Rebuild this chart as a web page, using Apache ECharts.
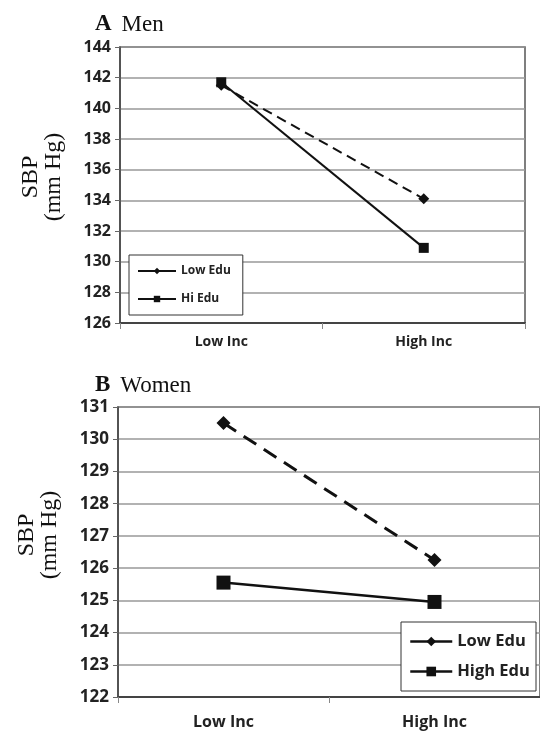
<!DOCTYPE html>
<html>
<head>
<meta charset="utf-8">
<script src="https://cdn.jsdelivr.net/npm/echarts@6/dist/echarts.min.js"></script>
<style>
    html, body { margin: 0; padding: 0; background: #fff; }
    #chart { width: 540px; height: 731px; }
</style>
</head>
<body>
<div id="chart"></div>
<script>
// Data
const categories = ['Low Inc', 'High Inc'];
const menLowEdu = [141.5, 134.1];
const menHiEdu = [141.7, 130.9];
const womenLowEdu = [130.5, 126.25];
const womenHighEdu = [125.55, 124.95];

const sansFont = '"Open Sans", sans-serif';
const serifFont = '"Liberation Serif", serif';

function yAxisFor(gridIndex, min, max, interval, fontSize, nameGap, nameShift) {
    return {
        type: 'value',
        gridIndex: gridIndex,
        min: min,
        max: max,
        interval: interval,
        name: 'SBP\n(mm Hg)',
        nameLocation: 'middle',
        nameRotate: 90,
        nameGap: nameGap,
        nameTextStyle: {fontFamily: serifFont, fontSize: 24, color: '#111', lineHeight: 23, padding: [0, 0, 0, nameShift]},
        axisLine: {show: true, lineStyle: {color: '#444', width: 1.5}},
        axisTick: {show: true, length: 5, lineStyle: {color: '#666'}},
        axisLabel: {fontFamily: sansFont, fontWeight: 'bold', fontSize: fontSize, color: '#222', margin: 9},
        splitLine: {show: true, lineStyle: {color: '#999', width: 1.5}}
    };
}

function xAxisFor(gridIndex, fontSize, margin) {
    return {
        type: 'category',
        gridIndex: gridIndex,
        data: categories,
        boundaryGap: true,
        axisLine: {show: true, lineStyle: {color: '#444', width: 2}},
        axisTick: {show: true, length: 6, lineStyle: {color: '#888'}},
        axisLabel: {fontFamily: sansFont, fontWeight: 'bold', fontSize: fontSize, color: '#222', margin: margin},
        splitLine: {show: false}
    };
}

function panelTitle(letter, word, top) {
    return {
        left: 90, top: top,
        text: '{b|' + letter + '}  {n|' + word + '}',
        textStyle: {rich: {
            b: {fontFamily: serifFont, fontWeight: 'bold', fontSize: 23, color: '#111'},
            n: {fontFamily: serifFont, fontWeight: 'normal', fontSize: 23, color: '#111'}
        }}
    };
}

const chart = echarts.init(document.getElementById('chart'));
const option = {
    animation: false,
    backgroundColor: '#fff',
    title: [panelTitle('A', 'Men', 8), panelTitle('B', 'Women', 369)],
    grid: [
        {left: 120, top: 47, width: 405, height: 276, show: true, borderColor: '#555', borderWidth: 1.5},
        {left: 118, top: 407, width: 426, height: 290, show: true, borderColor: '#555', borderWidth: 1.5}
    ],
    xAxis: [xAxisFor(0, 14, 12), xAxisFor(1, 16, 17)],
    yAxis: [yAxisFor(0, 126, 144, 2, 16, 55, 16), yAxisFor(1, 122, 131, 1, 17, 57, 34)],
    legend: [{
        data: ['Low Edu', 'Hi Edu'],
        orient: 'vertical',
        left: 129, top: 255,
        padding: [10, 12, 10, 8],
        itemGap: 16,
        itemWidth: 38, itemHeight: 8,
        backgroundColor: '#fff',
        borderColor: '#333', borderWidth: 1,
        lineStyle: {type: 'solid', width: 2},
        textStyle: {fontFamily: sansFont, fontWeight: 'bold', fontSize: 12, color: '#222'}
    }, {
        data: ['Low Edu ', 'High Edu'],
        orient: 'vertical',
        left: 401, top: 622,
        padding: [11, 6, 11, 8],
        itemGap: 13,
        itemWidth: 42, itemHeight: 12,
        backgroundColor: '#fff',
        borderColor: '#333', borderWidth: 1,
        lineStyle: {type: 'solid', width: 2.5},
        textStyle: {fontFamily: sansFont, fontWeight: 'bold', fontSize: 16.5, color: '#222'}
    }],
    series: [{
        name: 'Low Edu',
        type: 'line',
        xAxisIndex: 0, yAxisIndex: 0,
        data: menLowEdu,
        symbol: 'diamond', symbolSize: 11,
        itemStyle: {color: '#111'},
        lineStyle: {color: '#111', width: 2, type: [10, 6]}
    }, {
        name: 'Hi Edu',
        type: 'line',
        xAxisIndex: 0, yAxisIndex: 0,
        data: menHiEdu,
        symbol: 'rect', symbolSize: 10,
        itemStyle: {color: '#111'},
        lineStyle: {color: '#111', width: 2}
    }, {
        name: 'Low Edu ',
        type: 'line',
        xAxisIndex: 1, yAxisIndex: 1,
        data: womenLowEdu,
        symbol: 'diamond', symbolSize: 14,
        itemStyle: {color: '#111'},
        lineStyle: {color: '#111', width: 3, type: [15, 9]}
    }, {
        name: 'High Edu',
        type: 'line',
        xAxisIndex: 1, yAxisIndex: 1,
        data: womenHighEdu,
        symbol: 'rect', symbolSize: 14,
        itemStyle: {color: '#111'},
        lineStyle: {color: '#111', width: 2.5}
    }]
};
chart.setOption(option);
</script>
</body>
</html>
